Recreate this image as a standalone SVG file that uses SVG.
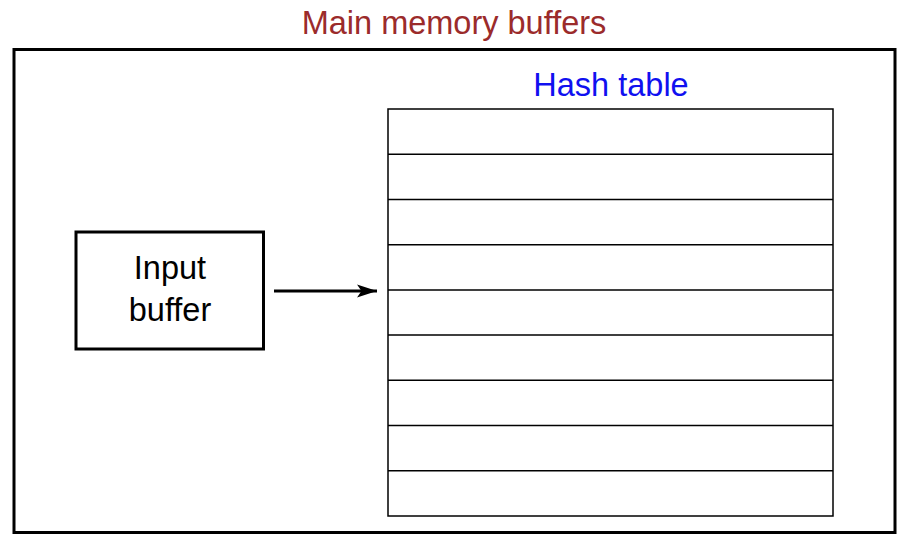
<svg xmlns="http://www.w3.org/2000/svg" width="908" height="542" viewBox="0 0 908 542">
<defs>
<style>
text{font-family:"Liberation Sans",Arial,sans-serif;font-size:32.5px;text-anchor:middle}
.thick{fill:none;stroke:#000;stroke-width:3}
.thin{fill:none;stroke:#000;stroke-width:1.5}
</style>
<marker id="ah" markerWidth="22" markerHeight="16" refX="20" refY="8" orient="auto" markerUnits="userSpaceOnUse">
<path d="M0,1.5 L20,8 L0,14.5 L4.5,8 Z" fill="#000"/>
</marker>
</defs>
<rect width="908" height="542" fill="#fff"/>
<g id="main-memory">
<rect class="thick" x="14" y="49.5" width="881" height="483"/>
<text x="454" y="34" fill="#9b2b2b">Main memory buffers</text>
</g>
<g id="hash-table">
<text x="611" y="96" fill="#1010f0">Hash table</text>
<rect class="thin" x="388" y="109" width="445" height="407"/>
<path class="thin" d="M388,154.2H833M388,199.4H833M388,244.7H833M388,289.9H833M388,335.1H833M388,380.3H833M388,425.6H833M388,470.8H833"/>
</g>
<g id="input-buffer">
<rect class="thick" x="76" y="232" width="187.5" height="117"/>
<text x="170" y="279">Input</text>
<text x="170" y="321">buffer</text>
</g>
<g id="connectors">
<line x1="274" y1="291" x2="377" y2="291" stroke="#000" stroke-width="3" marker-end="url(#ah)"/>
</g>
</svg>
